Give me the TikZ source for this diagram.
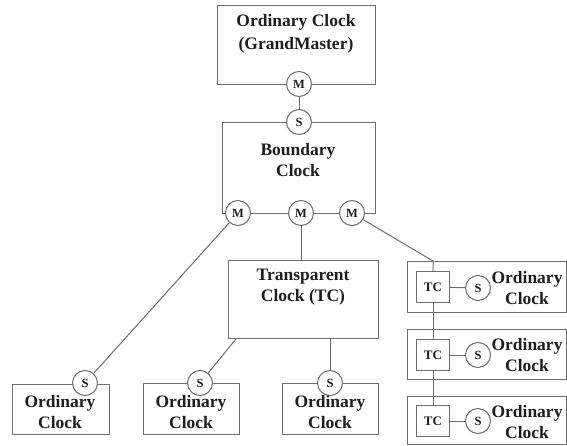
\documentclass[tikz,border=0pt]{standalone}
\usepackage{fontspec}
\setmainfont{Liberation Serif}
\usetikzlibrary{calc}
\definecolor{linegray}{RGB}{110,110,110}
\definecolor{ink}{RGB}{30,30,30}
\begin{document}
\begin{tikzpicture}[x=1pt,y=-1pt,
  wire/.style={draw=linegray, line width=1pt},
  clockbox/.style={rectangle, draw=linegray, line width=1pt, anchor=north west, inner sep=0pt},
  port/.style={circle, draw=linegray, line width=1pt, fill=white, minimum size=25pt,
    inner sep=0pt, text=ink, font=\bfseries\fontsize{12.5}{12.5}\selectfont},
  tcbox/.style={rectangle, draw=linegray, line width=1pt, fill=white, minimum width=33pt,
    minimum height=31pt, inner sep=0pt, text=ink, font=\bfseries\fontsize{13}{13}\selectfont},
  title/.style={align=center, inner sep=0pt, text=ink, font=\bfseries\fontsize{17.5}{21}\selectfont}
]
\useasboundingbox (0,0) rectangle (567,446);

% clock boxes
\node[clockbox, minimum width=158pt, minimum height=79pt] (gm) at (217,5) {};
\node[clockbox, minimum width=153pt, minimum height=91pt] (bc) at (222,122) {};
\node[clockbox, minimum width=150pt, minimum height=78pt] (tc) at (228,260) {};
\node[clockbox, minimum width=97pt, minimum height=50pt] (oc1) at (12,384) {};
\node[clockbox, minimum width=96pt, minimum height=51pt] (oc2) at (143,383) {};
\node[clockbox, minimum width=96pt, minimum height=51pt] (oc3) at (282,383) {};
\node[clockbox, minimum width=159pt, minimum height=51pt] (ra) at (407,261) {};
\node[clockbox, minimum width=159pt, minimum height=50pt] (rb) at (407,329) {};
\node[clockbox, minimum width=159pt, minimum height=48pt] (rc) at (407,396) {};

% box titles
\node[title, font=\bfseries\fontsize{17.5}{23}\selectfont] (gmt) at (296,33.5) {Ordinary Clock\\(GrandMaster)};
\node[title] (bct) at (298,160) {Boundary\\Clock};
\node[title] (tct) at (303,287.5) {Transparent\\Clock (TC)};
\node[title] (oc1t) at (60,412) {Ordinary\\Clock};
\node[title] (oc2t) at (191,412) {Ordinary\\Clock};
\node[title] (oc3t) at (330,412) {Ordinary\\Clock};
\node[title] (rat) at (527,288) {Ordinary\\Clock};
\node[title] (rbt) at (527,355.5) {Ordinary\\Clock};
\node[title] (rct) at (527,422) {Ordinary\\Clock};

% ports
\node[port] (gmm) at (299,84) {M};
\node[port] (bcs) at (299,122) {S};
\node[port] (m1) at (238,213) {M};
\node[port] (m2) at (301,213) {M};
\node[port] (m3) at (352,213) {M};
\node[port] (s1) at (85,383) {S};
\node[port] (s2) at (200,383) {S};
\node[port] (s3) at (330,383) {S};
\node[tcbox] (tca) at (433,287) {TC};
\node[tcbox] (tcb) at (433,355) {TC};
\node[tcbox] (tcc) at (433,421) {TC};
\node[port] (sa) at (478,288) {S};
\node[port] (sb) at (478,355) {S};
\node[port] (sc) at (478,421) {S};

% links
\draw[wire] (gmm) -- (bcs);
\draw[wire] (m1) -- (s1);
\draw[wire] (m2) -- (m2 |- tc.north);
\coordinate (bend) at (tca |- ra.north);
\draw[wire] (m3) -- (bend) -- (tca);
\draw[wire] ($(tc.south west)!0.053!(tc.south east)$) -- (s2);
\draw[wire] (s3 |- tc.south) -- (s3);
\draw[wire] (tca) -- (tcb);
\draw[wire] (tcb) -- (tcc);
\draw[wire] (tca) -- (sa);
\draw[wire] (tcb) -- (sb);
\draw[wire] (tcc) -- (sc);
\end{tikzpicture}
\end{document}
